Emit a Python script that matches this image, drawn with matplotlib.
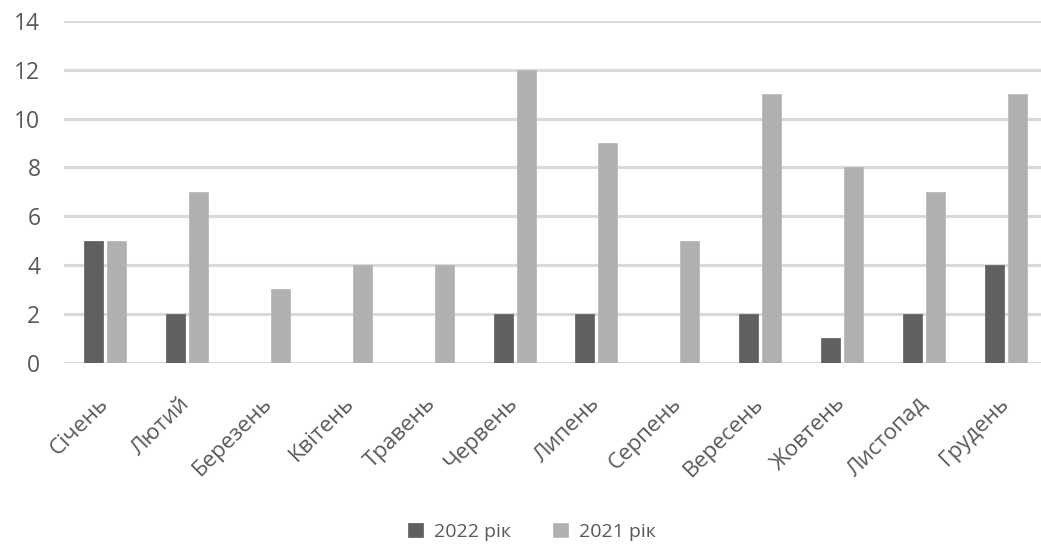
import numpy as np
import matplotlib.pyplot as plt

plt.rcParams['font.family'] = ['Open Sans', 'DejaVu Sans']

misyatsi = ['Січень', 'Лютий', 'Березень', 'Квітень', 'Травень', 'Червень',
            'Липень', 'Серпень', 'Вересень', 'Жовтень', 'Листопад', 'Грудень']
rik_2022 = [5, 2, 0, 0, 0, 2, 2, 0, 2, 1, 2, 4]
rik_2021 = [5, 7, 3, 4, 4, 12, 9, 5, 11, 8, 7, 11]

kolir_tekstu = '#595959'

fig = plt.figure(figsize=(10.41, 5.47), dpi=100)
ax = fig.add_axes([64 / 1041, (547 - 362.7) / 547, 983 / 1041, 341.7 / 547])

x = np.arange(len(misyatsi))
shyryna = 0.232
zsuv = 0.14
ax.bar(x - zsuv, rik_2022, shyryna, color='#606060', edgecolor='#6a6a6a',
       linewidth=0.6, label='2022 рік', zorder=3)
ax.bar(x + zsuv, rik_2021, shyryna, color='#b0b0b0', edgecolor='#bababa',
       linewidth=0.6, label='2021 рік', zorder=3)

ax.set_xlim(-0.5, len(misyatsi) - 0.5)
ax.set_ylim(0, 14)
ax.set_yticks(range(0, 15, 2))
ax.grid(axis='y', color='#d9d9d9', linewidth=2.2, zorder=0)
for s in ax.spines.values():
    s.set_visible(False)

ax.tick_params(axis='y', length=0, colors=kolir_tekstu, labelsize=16.5, pad=17)
ax.set_xticks(x)
ax.set_xticklabels(misyatsi, rotation=45, ha='right', va='center',
                   rotation_mode='anchor', fontsize=16, color=kolir_tekstu)
ax.tick_params(axis='x', length=0, pad=27)

leg = fig.legend(loc='center', bbox_to_anchor=(0.511, 1 - 532 / 547), ncol=2,
                 frameon=False, fontsize=14, handlelength=0.75, handleheight=0.75,
                 handletextpad=0.55, columnspacing=2.2)
for t in leg.get_texts():
    t.set_color(kolir_tekstu)

fig.savefig('out.png', dpi=100)
